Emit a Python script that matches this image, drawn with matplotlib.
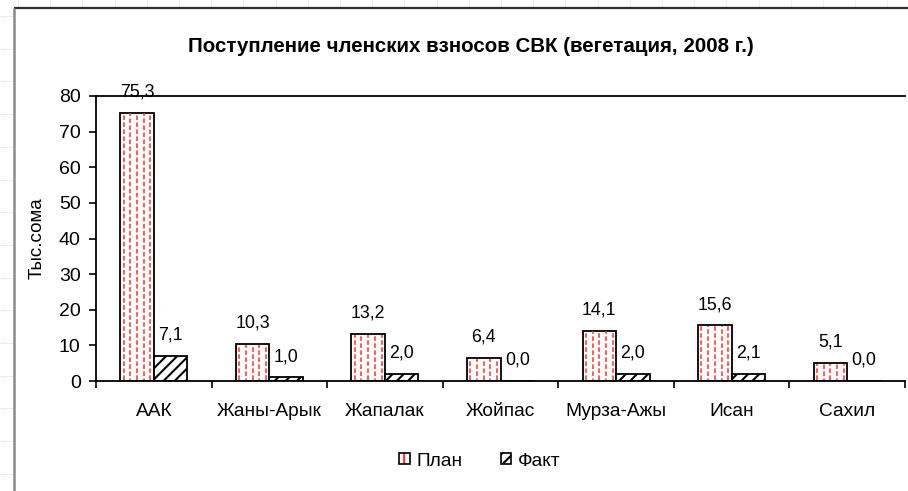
import numpy as np
import matplotlib
matplotlib.use("Agg")
import matplotlib.pyplot as plt
from matplotlib.patches import Patch, Rectangle
from matplotlib.legend_handler import HandlerTuple

plt.rcParams['font.family'] = ['Liberation Sans', 'DejaVu Sans']
plt.rcParams['hatch.linewidth'] = 1.5

# data
categories = ['ААК', 'Жаны-Арык', 'Жапалак', 'Жойпас', 'Мурза-Ажы', 'Исан', 'Сахил']
plan = [75.3, 10.3, 13.2, 6.4, 14.1, 15.6, 5.1]
fakt = [7.1, 1.0, 2.0, 0.0, 2.0, 2.1, 0.0]
yticks = [0, 10, 20, 30, 40, 50, 60, 70, 80]

W, H = 908, 491
fig = plt.figure(figsize=(W / 100, H / 100), dpi=100)

# spreadsheet background with faint cell grid
bg = fig.add_axes([0, 0, 1, 1], zorder=-5)
bg.set_xlim(0, W)
bg.set_ylim(H, 0)
bg.set_xticks(np.arange(18, W, 32.2))
bg.set_yticks(np.arange(16, H, 32.7))
bg.grid(True, color='#d0dcf2', linestyle=(0, (1, 1)), linewidth=0.8)
bg.tick_params(length=0, labelbottom=False, labelleft=False)
for s in bg.spines.values():
    s.set_visible(False)
bg.add_patch(Rectangle((14, 8), W, H, facecolor='white', edgecolor='none', zorder=3))
bg.plot([14, W], [8, 8], color='#303030', lw=1.6, zorder=4, solid_capstyle='butt')
bg.plot([14, 14], [8, H], color='#8a8a8a', lw=1.8, zorder=4, solid_capstyle='butt')

# main chart
ax = fig.add_axes([96 / W, 1 - 381 / H, 809 / W, 285 / H])
ax.set_facecolor('none')
x = np.arange(len(categories))
bw = 0.29

plan_bars = ax.bar(x - bw / 2, plan, bw, facecolor='white', edgecolor='black', linewidth=1.3, zorder=2)
fakt_bars = ax.bar(x + bw / 2, fakt, bw, facecolor='white', edgecolor='black', hatch='///',
                   linewidth=1.3, zorder=2)

# red dashed fill pattern of the plan bars
ncol = 5
for b in plan_bars:
    x0 = b.get_x()
    h = b.get_height()
    for i in range(ncol):
        xi = x0 + (i + 0.5) * bw / ncol
        ax.vlines(xi, 0.2, h - 0.2, colors='#ff3030', linewidth=1.1,
                  linestyles=[(2.0 * (i % 2), (3, 1.6))], zorder=2.5)

def fmt(v):
    return f"{v:.1f}".replace('.', ',')

for b, v in zip(plan_bars, plan):
    ax.annotate(fmt(v), (b.get_x() + b.get_width() / 2, v), xytext=(0, 15),
                textcoords='offset points', ha='center', va='center', fontsize=12.8, zorder=5)
for b, v in zip(fakt_bars, fakt):
    ax.annotate(fmt(v), (b.get_x() + b.get_width() / 2, v), xytext=(0, 15),
                textcoords='offset points', ha='center', va='center', fontsize=12.8, zorder=5)

ax.set_xlim(-0.5, len(categories) - 0.5)
ax.set_ylim(0, 80)
ax.set_yticks(yticks)
ax.set_yticklabels([str(t) for t in yticks])
ax.set_xticks(np.arange(-0.5, len(categories), 1.0))
ax.set_xticklabels([])
ax.set_xticks(x, minor=True)
ax.set_xticklabels(categories, minor=True)
ax.tick_params(axis='x', which='major', direction='out', length=5, width=1.2)
ax.tick_params(axis='x', which='minor', length=0, pad=16, labelsize=13.8)
ax.tick_params(axis='y', direction='out', length=5, width=1.2, pad=6, labelsize=14)

for s in ['left', 'bottom', 'top']:
    ax.spines[s].set_linewidth(1.3)
ax.spines['right'].set_visible(False)

ax.set_ylabel('Тыс.сома', fontsize=13.5)
ax.yaxis.set_label_coords(-50 / 809, 0.5)

fig.text(471 / W, 1 - 47 / H, 'Поступление членских взносов СВК (вегетация, 2008 г.)',
         ha='center', va='center', fontsize=14.8, fontweight='bold')

# legend
plan_handle = (Patch(facecolor='white', edgecolor='#ff3030', hatch='||', linewidth=0),
               Patch(facecolor='none', edgecolor='black', linewidth=1.2))
fakt_handle = Patch(facecolor='white', edgecolor='black', hatch='///', linewidth=1.2)
fig.legend([plan_handle, fakt_handle], ['План', 'Факт'],
           handler_map={tuple: HandlerTuple(ndivide=1, pad=0)},
           loc='center', bbox_to_anchor=(480 / W, 1 - 461 / H), ncol=2, frameon=False,
           fontsize=13.8, handlelength=0.55, handleheight=0.55, handletextpad=0.35,
           columnspacing=2.0)

fig.savefig('out.png', dpi=100)
